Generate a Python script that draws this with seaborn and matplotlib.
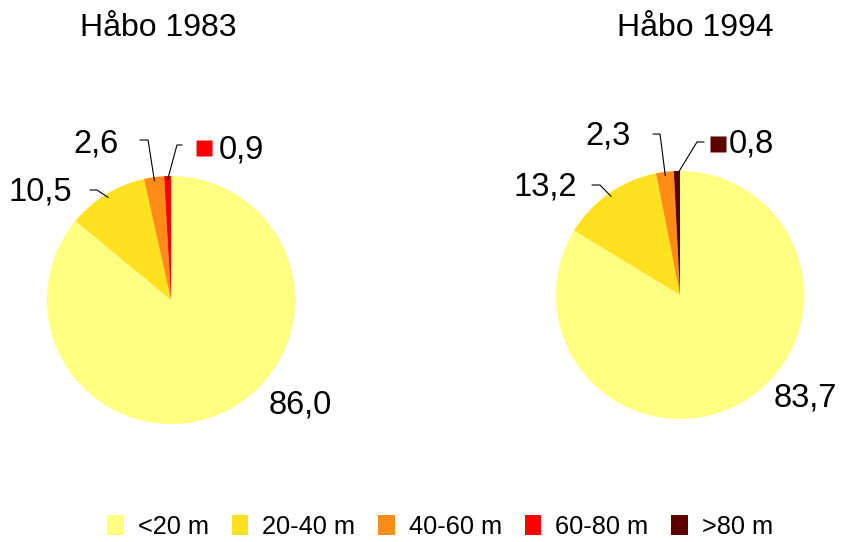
import numpy as np
import matplotlib
matplotlib.use("Agg")
import matplotlib.pyplot as plt
from matplotlib.patches import Patch
import seaborn as sns

# data
klasser = ['<20 m', '20-40 m', '40-60 m', '60-80 m', '>80 m']
farger = ['#FFFF80', '#FFE11F', '#FF8C14', '#FF0000', '#5C0000']
ar = ['Håbo 1983', 'Håbo 1994']
andel_1983 = [86.0, 10.5, 2.6, 0.9, 0.0]
andel_1994 = [83.7, 13.2, 2.3, 0.0, 0.8]

sns.set_style("white")
plt.rcParams['font.family'] = ['Liberation Sans', 'DejaVu Sans']

W, H = 849, 542
fig = plt.figure(figsize=(W / 100, H / 100), dpi=100)

R = 124  # pie radius in px
K = 1.7  # axis half-range in radius units

# label layout per pie (radius units): text pos, elbow inner x, elbow outer x, elbow y
layout = {
    'Håbo 1983': {
        'center': (171, 300), 'title': (158, 28),
        0: {'text': (1.04, -0.847)},
        1: {'text': (-1.056, 0.871), 'elbow': (-0.597, -0.653, 0.887)},
        2: {'text': (-0.605, 1.258), 'elbow': (-0.185, -0.25, 1.29)},
        3: {'text': (0.566, 1.21), 'elbow': (0.048, 0.089, 1.25), 'key': (0.266, 1.226)},
    },
    'Håbo 1994': {
        'center': (680, 295), 'title': (695, 28),
        0: {'text': (1.008, -0.83)},
        1: {'text': (-1.089, 0.871), 'elbow': (-0.645, -0.71, 0.887)},
        2: {'text': (-0.58, 1.28), 'elbow': (-0.161, -0.218, 1.298)},
        4: {'text': (0.575, 1.218), 'elbow': (0.137, 0.194, 1.234), 'key': (0.31, 1.218)},
    },
}

for namn, vals in zip(ar, [andel_1983, andel_1994]):
    lay = layout[namn]
    cx, cy = lay['center']
    size = 2 * R * K
    ax = fig.add_axes([(cx - size / 2) / W, (H - cy - size / 2) / H, size / W, size / H])
    wedges, _ = ax.pie(vals, colors=farger, startangle=90, counterclock=False,
                       radius=1, wedgeprops=dict(linewidth=0))
    ax.set_xlim(-K, K)
    ax.set_ylim(-K, K)
    ax.set_aspect('equal')
    ax.axis('off')

    for i, w in enumerate(wedges):
        if i not in lay:
            continue
        info = lay[i]
        txt = f"{vals[i]:.1f}".replace('.', ',')
        tx, ty = info['text']
        ax.text(tx, ty, txt, ha='center', va='center', fontsize=23.5, color='black')
        if 'elbow' in info:
            mid = np.deg2rad((w.theta1 + w.theta2) / 2)
            px, py = 0.97 * np.cos(mid), 0.97 * np.sin(mid)
            x_in, x_out, ey = info['elbow']
            ax.plot([px, x_in, x_out], [py, ey, ey], color='black', lw=0.8)
        if 'key' in info:
            kx, ky = info['key']
            ax.plot(kx, ky, marker='s', markersize=11.5, color=farger[i], mec='none')

    fig.text(lay['title'][0] / W, 1 - lay['title'][1] / H, namn,
             ha='center', va='center', fontsize=23, color='black')

handles = [Patch(facecolor=c, edgecolor='none') for c in farger]
fig.legend(handles, klasser, loc='center', bbox_to_anchor=(440 / W, 1 - 527 / H),
           ncol=5, frameon=False, fontsize=18.3, handlelength=0.65, handleheight=0.8,
           columnspacing=0.9, handletextpad=0.55, labelcolor='black')

fig.savefig('out.png', dpi=100)
